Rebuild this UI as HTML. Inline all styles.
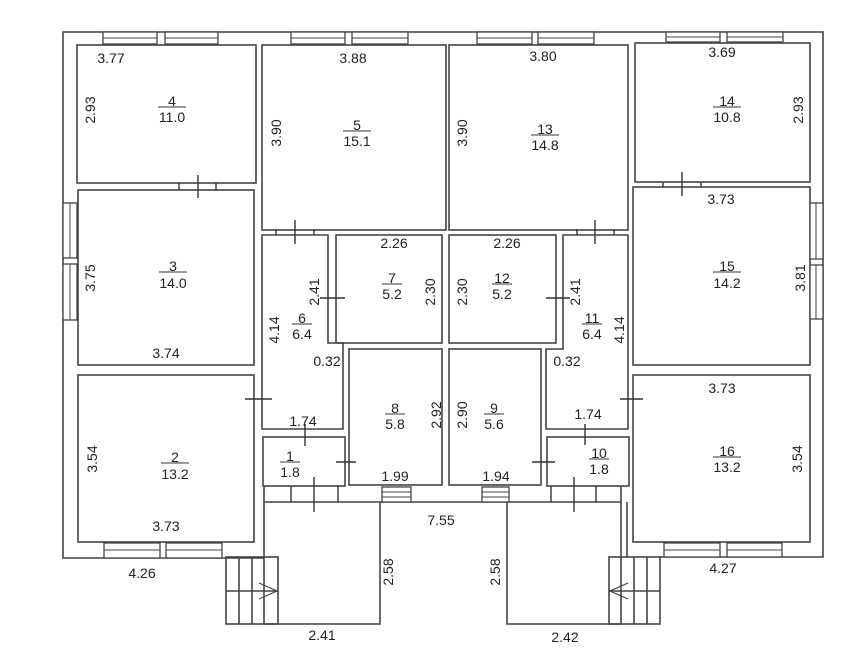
<!DOCTYPE html>
<html><head><meta charset="utf-8"><style>
html,body{margin:0;padding:0;background:#fff;}
svg{display:block;}
text{font-family:"Liberation Sans",sans-serif;font-size:14px;fill:#222;text-anchor:middle;}
</style></head><body>
<svg width="847" height="658" viewBox="0 0 847 658" xmlns="http://www.w3.org/2000/svg">
<g fill="none" stroke="#444" stroke-width="1.6">
<polyline points="264,558 63,558 63,32 823,32 823,557 660,557"/>
<line x1="627" y1="557" x2="627" y2="502"/>
<line x1="264" y1="502" x2="621" y2="502"/>
<rect x="77" y="45" width="179" height="138"/>
<rect x="262" y="45" width="184" height="185"/>
<rect x="78" y="190" width="176" height="175"/>
<polygon points="262,235 328,235 328,343 343,343 343,429 262,429"/>
<rect x="336" y="235" width="106" height="108"/>
<rect x="349" y="349" width="93" height="136"/>
<rect x="263" y="437" width="82" height="49"/>
<rect x="78" y="375" width="176" height="167"/>
<rect x="449" y="45" width="179" height="185"/>
<rect x="635" y="43" width="175" height="139"/>
<rect x="633" y="187" width="177" height="178"/>
<rect x="449" y="235" width="107" height="108"/>
<polygon points="563,235 628,235 628,429 546,429 546,349 563,349"/>
<rect x="449" y="349" width="92" height="136"/>
<rect x="547" y="437" width="82" height="49"/>
<rect x="633" y="375" width="177" height="167"/>
<polyline points="264,486 264,624 380,624 380,502"/>
<polyline points="507,502 507,624 621,624 621,486"/>
<rect x="226" y="557" width="52" height="67"/>
<line x1="239" y1="557" x2="239" y2="624"/><line x1="252" y1="557" x2="252" y2="624"/>
<line x1="226" y1="591" x2="278" y2="591"/>
<polyline points="259,583 277,591 259,599" stroke-width="1.2"/>
<rect x="609" y="557" width="51" height="67"/>
<line x1="634" y1="557" x2="634" y2="624"/><line x1="647" y1="557" x2="647" y2="624"/>
<line x1="609" y1="591" x2="660" y2="591"/>
<polyline points="628,583 610,591 628,599" stroke-width="1.2"/>
</g>
<g fill="#fff" stroke="#444" stroke-width="1.3">
<rect x="103" y="32" width="54" height="12"/><rect x="165" y="32" width="53" height="12"/>
<rect x="291" y="32" width="54" height="12"/><rect x="352" y="32" width="56" height="12"/>
<rect x="477" y="32" width="55" height="12"/><rect x="538" y="32" width="56" height="12"/>
<rect x="666" y="32" width="54" height="10"/><rect x="727" y="32" width="56" height="10"/>
<rect x="63" y="203" width="14" height="55"/><rect x="63" y="264" width="14" height="56"/>
<rect x="810" y="203" width="13" height="56"/><rect x="810" y="265" width="13" height="54"/>
<rect x="104" y="543" width="56" height="15"/><rect x="166" y="543" width="56" height="15"/>
<rect x="664" y="543" width="56" height="14"/><rect x="727" y="543" width="55" height="14"/>
<rect x="382" y="487" width="29" height="15"/><rect x="482" y="487" width="27" height="15"/>
</g>
<g stroke="#444" stroke-width="1">
<line x1="103" y1="38" x2="157" y2="38"/><line x1="165" y1="38" x2="218" y2="38"/>
<line x1="291" y1="38" x2="345" y2="38"/><line x1="352" y1="38" x2="408" y2="38"/>
<line x1="477" y1="38" x2="532" y2="38"/><line x1="538" y1="38" x2="594" y2="38"/>
<line x1="666" y1="37" x2="720" y2="37"/><line x1="727" y1="37" x2="783" y2="37"/>
<line x1="70" y1="203" x2="70" y2="258"/><line x1="70" y1="264" x2="70" y2="320"/>
<line x1="816" y1="203" x2="816" y2="259"/><line x1="816" y1="265" x2="816" y2="319"/>
<line x1="104" y1="550" x2="160" y2="550"/><line x1="166" y1="550" x2="222" y2="550"/>
<line x1="664" y1="550" x2="720" y2="550"/><line x1="727" y1="550" x2="782" y2="550"/>
<line x1="382" y1="492" x2="411" y2="492"/><line x1="382" y1="497" x2="411" y2="497"/>
<line x1="482" y1="492" x2="509" y2="492"/><line x1="482" y1="497" x2="509" y2="497"/>
</g>
<g stroke="#333" stroke-width="1.4">
<line x1="198" y1="175" x2="198" y2="198"/><line x1="179" y1="183" x2="179" y2="190"/><line x1="216" y1="183" x2="216" y2="190"/>
<line x1="295" y1="220" x2="295" y2="244"/><line x1="276" y1="229" x2="276" y2="235"/><line x1="314" y1="229" x2="314" y2="235"/>
<line x1="320" y1="298" x2="345" y2="298"/>
<line x1="245" y1="399" x2="272" y2="399"/>
<line x1="305" y1="424" x2="305" y2="446"/>
<line x1="336" y1="462" x2="356" y2="462"/>
<line x1="314" y1="477" x2="314" y2="512"/><line x1="291" y1="486" x2="291" y2="502"/><line x1="338" y1="486" x2="338" y2="502"/>
<line x1="595" y1="220" x2="595" y2="244"/><line x1="577" y1="229" x2="577" y2="235"/><line x1="614" y1="229" x2="614" y2="235"/>
<line x1="682" y1="172" x2="682" y2="196"/><line x1="663" y1="182" x2="663" y2="187"/><line x1="701" y1="182" x2="701" y2="187"/>
<line x1="546" y1="298" x2="570" y2="298"/>
<line x1="620" y1="399" x2="643" y2="399"/>
<line x1="585" y1="424" x2="585" y2="445"/>
<line x1="532" y1="462" x2="555" y2="462"/>
<line x1="574" y1="477" x2="574" y2="512"/><line x1="551" y1="486" x2="551" y2="502"/><line x1="596" y1="486" x2="596" y2="502"/>
</g>
<g stroke="#333" stroke-width="1">
<line x1="158" y1="107" x2="186" y2="107"/><line x1="343" y1="131" x2="371" y2="131"/>
<line x1="531" y1="135" x2="559" y2="135"/><line x1="713" y1="107" x2="741" y2="107"/>
<line x1="159" y1="272" x2="187" y2="272"/><line x1="713" y1="272" x2="741" y2="272"/>
<line x1="382" y1="284" x2="402" y2="284"/><line x1="492" y1="284" x2="512" y2="284"/>
<line x1="292" y1="324" x2="312" y2="324"/><line x1="582" y1="324" x2="602" y2="324"/>
<line x1="385" y1="414" x2="405" y2="414"/><line x1="484" y1="414" x2="504" y2="414"/>
<line x1="280" y1="462" x2="300" y2="462"/><line x1="589" y1="459" x2="609" y2="459"/>
<line x1="161" y1="463" x2="189" y2="463"/><line x1="713" y1="457" x2="741" y2="457"/>
</g>
<text x="111" y="63">3.77</text>
<text x="172" y="106">4</text><text x="172" y="122">11.0</text>
<text x="353" y="63">3.88</text>
<text x="357" y="130">5</text><text x="357" y="146">15.1</text>
<text x="543" y="61">3.80</text>
<text x="545" y="134">13</text><text x="545" y="150">14.8</text>
<text x="722" y="57">3.69</text>
<text x="727" y="106">14</text><text x="727" y="122">10.8</text>
<text x="173" y="271">3</text><text x="173" y="288">14.0</text>
<text x="166" y="358">3.74</text>
<text x="721" y="204">3.73</text>
<text x="727" y="271">15</text><text x="727" y="288">14.2</text>
<text x="394" y="248">2.26</text>
<text x="392" y="283">7</text><text x="392" y="299">5.2</text>
<text x="507" y="248">2.26</text>
<text x="502" y="283">12</text><text x="502" y="299">5.2</text>
<text x="302" y="323">6</text><text x="302" y="339">6.4</text>
<text x="592" y="323">11</text><text x="592" y="339">6.4</text>
<text x="327" y="366">0.32</text><text x="567" y="366">0.32</text>
<text x="303" y="426">1.74</text><text x="588" y="419">1.74</text>
<text x="395" y="413">8</text><text x="395" y="429">5.8</text>
<text x="494" y="413">9</text><text x="494" y="429">5.6</text>
<text x="290" y="461">1</text><text x="290" y="477">1.8</text>
<text x="599" y="458">10</text><text x="599" y="474">1.8</text>
<text x="395" y="481">1.99</text><text x="496" y="481">1.94</text>
<text x="175" y="462">2</text><text x="175" y="479">13.2</text>
<text x="727" y="456">16</text><text x="727" y="472">13.2</text>
<text x="166" y="531">3.73</text><text x="722" y="393">3.73</text>
<text x="441" y="525">7.55</text>
<text x="142" y="578">4.26</text><text x="723" y="573">4.27</text>
<text x="322" y="640">2.41</text><text x="565" y="642">2.42</text>
<g>
<text transform="translate(95,110) rotate(-90)">2.93</text>
<text transform="translate(281,133) rotate(-90)">3.90</text>
<text transform="translate(467,133) rotate(-90)">3.90</text>
<text transform="translate(803,110) rotate(-90)">2.93</text>
<text transform="translate(95,278) rotate(-90)">3.75</text>
<text transform="translate(805,278) rotate(-90)">3.81</text>
<text transform="translate(319,292) rotate(-90)">2.41</text>
<text transform="translate(435,292) rotate(-90)">2.30</text>
<text transform="translate(467,292) rotate(-90)">2.30</text>
<text transform="translate(580,292) rotate(-90)">2.41</text>
<text transform="translate(279,330) rotate(-90)">4.14</text>
<text transform="translate(624,330) rotate(-90)">4.14</text>
<text transform="translate(441,415) rotate(-90)">2.92</text>
<text transform="translate(467,415) rotate(-90)">2.90</text>
<text transform="translate(97,459) rotate(-90)">3.54</text>
<text transform="translate(802,459) rotate(-90)">3.54</text>
<text transform="translate(393,572) rotate(-90)">2.58</text>
<text transform="translate(500,572) rotate(-90)">2.58</text>
</g>
</svg>
</body></html>
